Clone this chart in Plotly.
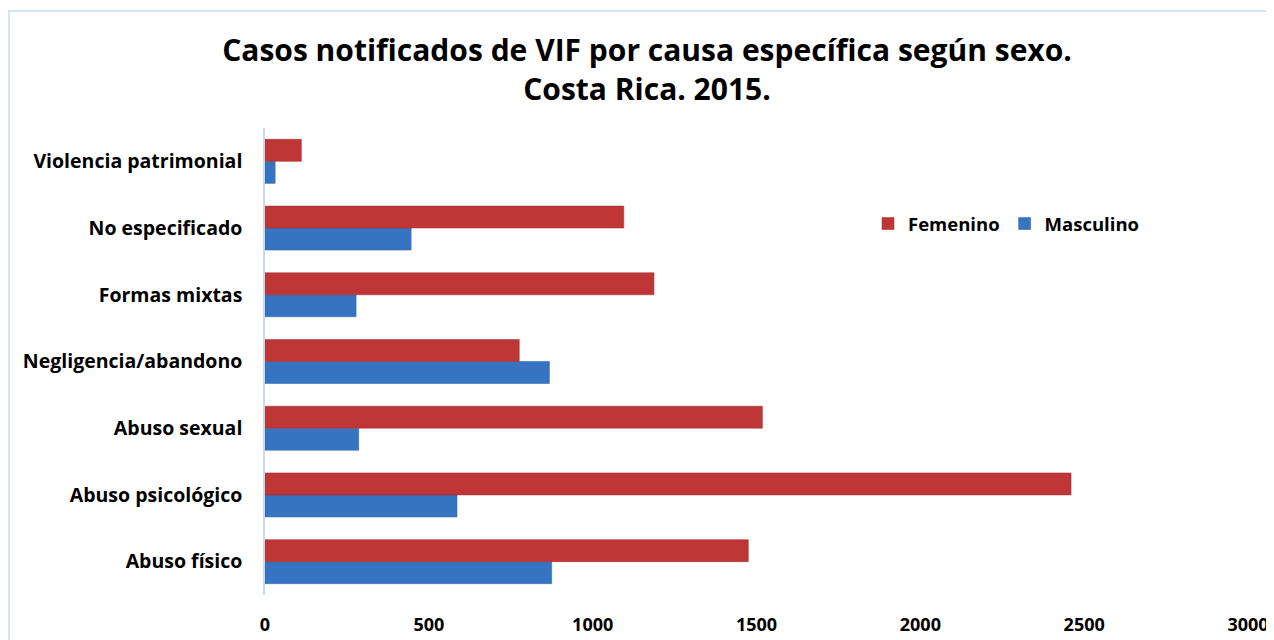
import plotly.graph_objects as go

categorias = ["Abuso físico", "Abuso psicológico", "Abuso sexual",
              "Negligencia/abandono", "Formas mixtas", "No especificado",
              "Violencia patrimonial"]
femenino = [1475, 2460, 1518, 776, 1187, 1095, 111]
masculino = [875, 586, 286, 868, 278, 446, 31]
x_ticks = [0, 500, 1000, 1500, 2000, 2500, 3000]

FONT = "Open Sans"
W, H = 1266, 632
L, R, T, B = 257, 26, 120, 45
PW, PH = W - L - R, H - T - B

fig = go.Figure()
fig.add_trace(go.Bar(y=categorias, x=masculino, name="<b>Masculino</b>", orientation="h",
                     marker=dict(color="#3674C2", line=dict(color="#2F62A6", width=0.5)),
                     legendrank=2))
fig.add_trace(go.Bar(y=categorias, x=femenino, name="<b>Femenino</b>", orientation="h",
                     marker=dict(color="#BE3636", line=dict(color="#A32E2E", width=0.5)),
                     legendrank=1))

fig.update_layout(
    width=W, height=H,
    margin=dict(l=L, r=R, t=T, b=B, autoexpand=False),
    paper_bgcolor="white", plot_bgcolor="white",
    barmode="group", bargap=0.34, bargroupgap=0,
    font=dict(family=FONT, color="black"),
    title=dict(text="<b>Casos notificados de VIF por causa específica según sexo.<br>Costa Rica. 2015.</b>",
               x=639 / W, xref="container", xanchor="center",
               y=1 - 53 / H, yref="container", yanchor="top",
               font=dict(size=30, family=FONT, color="black")),
    legend=dict(orientation="h", x=(860 - L) / PW, xref="paper", y=(H - B - 216) / PH,
                yref="paper", yanchor="middle", xanchor="left",
                font=dict(size=18.5, family=FONT, color="black"),
                bgcolor="rgba(0,0,0,0)", itemwidth=30, tracegroupgap=0),
    showlegend=True,
)
fig.update_xaxes(range=[0, 3000], tickvals=x_ticks, ticktext=[f"<b>{v}</b>" for v in x_ticks],
                 showgrid=False, zeroline=False, showline=False, ticks="",
                 tickfont=dict(size=18, family=FONT, color="black"), ticklabelstandoff=17)
fig.update_yaxes(showgrid=False, zeroline=False, showline=True, linecolor="#C6D9F1", linewidth=1.5,
                 ticks="", tickfont=dict(size=19.5, family=FONT, color="black"),
                 ticklabelstandoff=17,
                 tickvals=categorias, ticktext=[f"<b>{c}</b>" for c in categorias])
fig.add_shape(type="rect", xref="paper", yref="paper",
              x0=(1 - L) / PW, x1=(W + 10 - L) / PW,
              y0=-(B + 20) / PH, y1=(H - B - 3) / PH,
              line=dict(color="#D6E3F5", width=2), fillcolor="rgba(0,0,0,0)", layer="below")
fig.write_html("out.html")
